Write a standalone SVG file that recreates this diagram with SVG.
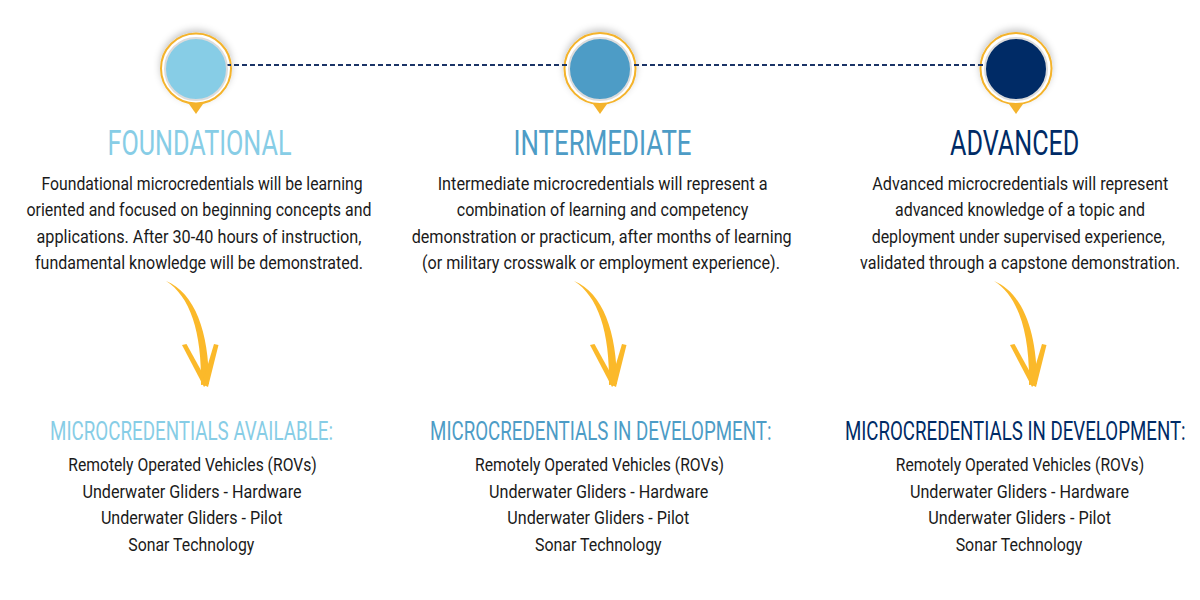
<svg xmlns="http://www.w3.org/2000/svg" width="1200" height="600" viewBox="0 0 1200 600">
<defs>
<filter id="sh" x="-40%" y="-40%" width="180%" height="180%">
<feDropShadow dx="0" dy="-3" stdDeviation="3.5" flood-color="#000" flood-opacity="0.22"/>
</filter>
<g id="arrow">
<path d="M-1,-1 C23,14 35,50 34,103 L42,102 C42,50 28,11 -1,-1 Z"/>
<path d="M15,63 L19.5,62 L41,101 L37,105 Z"/>
<path d="M47,62 L51.5,63 L41,105 L35,102 Z"/>
</g>
</defs>
<style>
text{font-family:Roboto,"Liberation Sans",sans-serif;text-anchor:middle}
.title{font-size:35px;font-weight:400}
.body{font-size:18px;fill:#1a1a1a}
.sub{font-size:25px;font-weight:400}
.ring{fill:#fff;stroke:#f4b32c;stroke-width:2}
.pin{fill:#f4b32c}
.inner{stroke:#dcdcdc;stroke-width:2}
.arr{fill:#fbb92a}
.c1{fill:#87cde6}
.c2{fill:#4d9cc6}
.c3{fill:#002b66}
</style>
<rect width="1200" height="600" fill="#fff"/>
<g id="rings">
<circle class="ring" cx="196" cy="68.5" r="35" filter="url(#sh)"/>
<circle class="ring" cx="600" cy="68.5" r="35.5" filter="url(#sh)"/>
<circle class="ring" cx="1016" cy="68.5" r="35.5" filter="url(#sh)"/>
<polygon class="pin" points="189,104 203,104 196,114"/>
<polygon class="pin" points="593,104 607,104 600,114"/>
<polygon class="pin" points="1009,104 1023,104 1016,114"/>
</g>
<g id="connectors">
<line x1="226" y1="65" x2="986" y2="65" stroke="#1b3466" stroke-width="1.8" stroke-dasharray="5,3"/>
</g>
<g id="node-foundational">
<circle class="inner c1" cx="196" cy="69" r="31"/>
<text class="title c1" x="199.5" y="155" textLength="184" lengthAdjust="spacingAndGlyphs">FOUNDATIONAL</text>
<text class="body" x="202" y="189.5" textLength="321" lengthAdjust="spacingAndGlyphs">Foundational microcredentials will be learning</text>
<text class="body" x="199" y="216" textLength="345" lengthAdjust="spacingAndGlyphs">oriented and focused on beginning concepts and</text>
<text class="body" x="199" y="242.5" textLength="325" lengthAdjust="spacingAndGlyphs">applications. After 30-40 hours of instruction,</text>
<text class="body" x="199" y="269" textLength="328" lengthAdjust="spacingAndGlyphs">fundamental knowledge will be demonstrated.</text>
<use href="#arrow" class="arr" x="167" y="282"/>
<text class="sub c1" x="191.5" y="440" textLength="283" lengthAdjust="spacingAndGlyphs">MICROCREDENTIALS AVAILABLE:</text>
<text class="body" x="192.5" y="471" textLength="248.5" lengthAdjust="spacingAndGlyphs">Remotely Operated Vehicles (ROVs)</text>
<text class="body" x="192" y="497.5" textLength="219" lengthAdjust="spacingAndGlyphs">Underwater Gliders - Hardware</text>
<text class="body" x="191.7" y="524" textLength="181.5" lengthAdjust="spacingAndGlyphs">Underwater Gliders - Pilot</text>
<text class="body" x="191.3" y="550.5" textLength="126" lengthAdjust="spacingAndGlyphs">Sonar Technology</text>
</g>
<g id="node-intermediate">
<circle class="inner c2" cx="600" cy="69" r="31"/>
<text class="title c2" x="602.5" y="155" textLength="178" lengthAdjust="spacingAndGlyphs">INTERMEDIATE</text>
<text class="body" x="602.7" y="189.5" textLength="330" lengthAdjust="spacingAndGlyphs">Intermediate microcredentials will represent a</text>
<text class="body" x="602.5" y="216" textLength="291.5" lengthAdjust="spacingAndGlyphs">combination of learning and competency</text>
<text class="body" x="601.7" y="242.5" textLength="380" lengthAdjust="spacingAndGlyphs">demonstration or practicum, after months of learning</text>
<text class="body" x="601" y="269" textLength="358" lengthAdjust="spacingAndGlyphs">(or military crosswalk or employment experience).</text>
<use href="#arrow" class="arr" x="575" y="282"/>
<text class="sub c2" x="600.8" y="440" textLength="341.5" lengthAdjust="spacingAndGlyphs">MICROCREDENTIALS IN DEVELOPMENT:</text>
<text class="body" x="599.5" y="471" textLength="249" lengthAdjust="spacingAndGlyphs">Remotely Operated Vehicles (ROVs)</text>
<text class="body" x="598.7" y="497.5" textLength="219.3" lengthAdjust="spacingAndGlyphs">Underwater Gliders - Hardware</text>
<text class="body" x="598.3" y="524" textLength="182" lengthAdjust="spacingAndGlyphs">Underwater Gliders - Pilot</text>
<text class="body" x="598.3" y="550.5" textLength="126.7" lengthAdjust="spacingAndGlyphs">Sonar Technology</text>
</g>
<g id="node-advanced">
<circle class="inner c3" cx="1016" cy="69" r="31"/>
<text class="title c3" x="1014.7" y="155" textLength="129.3" lengthAdjust="spacingAndGlyphs">ADVANCED</text>
<text class="body" x="1020.3" y="189.5" textLength="296" lengthAdjust="spacingAndGlyphs">Advanced microcredentials will represent</text>
<text class="body" x="1020" y="216" textLength="250" lengthAdjust="spacingAndGlyphs">advanced knowledge of a topic and</text>
<text class="body" x="1018.3" y="242.5" textLength="293.3" lengthAdjust="spacingAndGlyphs">deployment under supervised experience,</text>
<text class="body" x="1020" y="269" textLength="320" lengthAdjust="spacingAndGlyphs">validated through a capstone demonstration.</text>
<use href="#arrow" class="arr" x="995" y="282"/>
<text class="sub c3" x="1015.3" y="440" textLength="340.7" lengthAdjust="spacingAndGlyphs">MICROCREDENTIALS IN DEVELOPMENT:</text>
<text class="body" x="1020" y="471" textLength="248.3" lengthAdjust="spacingAndGlyphs">Remotely Operated Vehicles (ROVs)</text>
<text class="body" x="1019.5" y="497.5" textLength="219" lengthAdjust="spacingAndGlyphs">Underwater Gliders - Hardware</text>
<text class="body" x="1019.7" y="524" textLength="182.7" lengthAdjust="spacingAndGlyphs">Underwater Gliders - Pilot</text>
<text class="body" x="1019" y="550.5" textLength="126.7" lengthAdjust="spacingAndGlyphs">Sonar Technology</text>
</g>
</svg>
